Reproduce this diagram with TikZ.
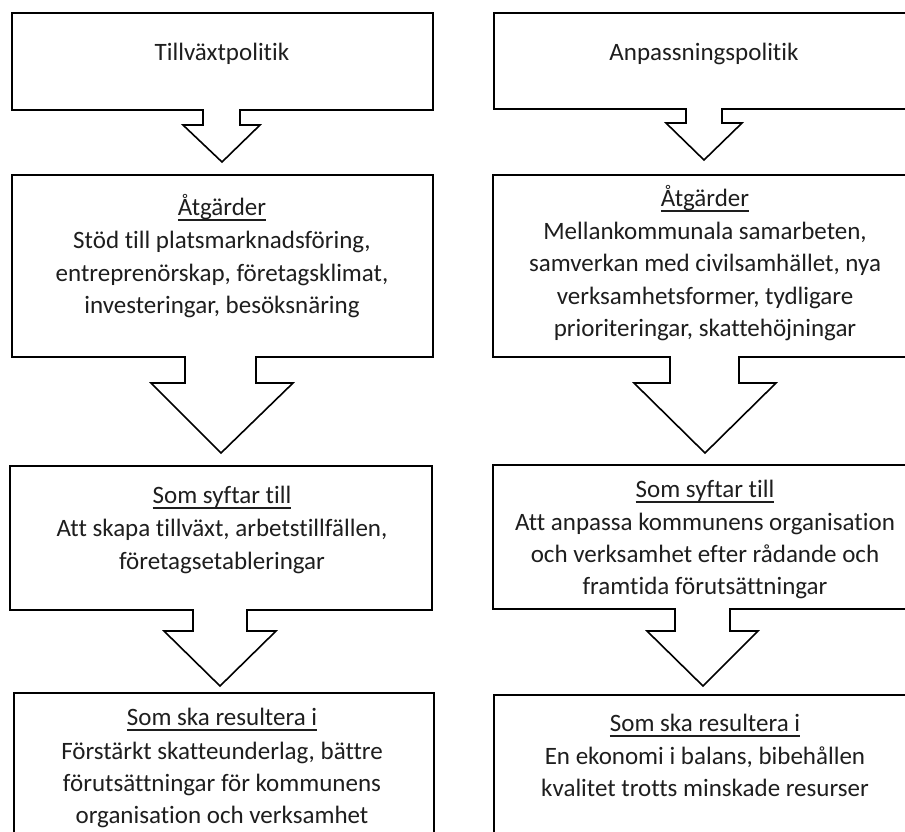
\documentclass[tikz,border=0pt]{standalone}
\usepackage{fontspec}
\setmainfont[Ligatures={NoCommon,NoRare}]{Carlito}
\usetikzlibrary{calc}
\definecolor{txt}{RGB}{30,30,30}
\tikzset{
  boxnode/.style={draw=black, line width=1.6pt, fill=white, inner sep=0pt, anchor=north west},
  lbl/.style={anchor=base, inner sep=0pt, text=txt, font=\fontsize{25}{32}\selectfont},
  arrline/.style={draw=black, line width=1.6pt, line join=miter},
}
% block arrow: #1 top y, #2 stem left, #3 stem right, #4 head y, #5 head left, #6 head right, #7 tip x, #8 tip y
\newcommand{\blockarr}[8]{%
  \fill[white] (#2,#1-2) -- (#2,#4) -- (#5,#4) -- (#7,#8) -- (#6,#4) -- (#3,#4) -- (#3,#1-2) -- cycle;
  \draw[arrline] (#2,#1) -- (#2,#4) -- (#5,#4) -- (#7,#8) -- (#6,#4) -- (#3,#4) -- (#3,#1);
}
\newcommand{\ul}[1]{\setbox0\hbox{#1}\rlap{\rule[-5.5pt]{\wd0}{1.6pt}}\box0}
\begin{document}
\begin{tikzpicture}[x=1pt,y=-1pt]
\useasboundingbox (0,0) rectangle (905,831);
\clip (0,0) rectangle (905,831);
\fill[white] (0,0) rectangle (905,831);
% left boxes
\node[boxnode, minimum width=421pt, minimum height=97pt] (L1) at (11,12) {};
\node[boxnode, minimum width=421pt, minimum height=182pt] (L2) at (11,174) {};
\node[boxnode, minimum width=422pt, minimum height=144pt] (L3) at (9,465) {};
\node[boxnode, minimum width=420pt, minimum height=180pt] (L4) at (13,692) {};
% right boxes
\node[boxnode, minimum width=440pt, minimum height=96pt] (R1) at (493,12) {};
\node[boxnode, minimum width=440pt, minimum height=182pt] (R2) at (492,174) {};
\node[boxnode, minimum width=440pt, minimum height=144pt] (R3) at (492,464) {};
\node[boxnode, minimum width=440pt, minimum height=180pt] (R4) at (493,694) {};
% arrows
\blockarr{109}{203}{240}{125}{183}{260}{222}{162}
\blockarr{356}{185}{256}{383}{151}{293}{221}{453}
\blockarr{609}{193}{247}{631}{164}{276}{220}{686}
\blockarr{108}{686}{722}{123}{666}{742}{704}{160}
\blockarr{356}{670}{739}{383}{634}{776}{705}{453}
\blockarr{608}{675}{730}{631}{647}{758}{703}{686}
% left texts
\node[lbl] (l1a) at (222,60) {Tillväxtpolitik};
\node[lbl] (l2a) at (222,215) {\ul{Åtgärder}};
\node[lbl] (l2b) at (222,248) {Stöd till platsmarknadsföring,};
\node[lbl] (l2c) at (222,281) {entreprenörskap, företagsklimat,};
\node[lbl] (l2d) at (222,313) {investeringar, besöksnäring};
\node[lbl] (l3a) at (222,503) {\ul{Som syftar till}};
\node[lbl] (l3b) at (222,536) {Att skapa tillväxt, arbetstillfällen,};
\node[lbl] (l3c) at (222,569) {företagsetableringar};
\node[lbl] (l4a) at (222,725) {\ul{Som ska resultera i}};
\node[lbl] (l4b) at (222,759) {Förstärkt skatteunderlag, bättre};
\node[lbl] (l4c) at (222,791) {förutsättningar för kommunens};
\node[lbl] (l4d) at (222,823) {organisation och verksamhet};
% right texts
\node[lbl] (r1a) at (704,60) {Anpassningspolitik};
\node[lbl] (r2a) at (705,206) {\ul{Åtgärder}};
\node[lbl] (r2b) at (705,239) {Mellankommunala samarbeten,};
\node[lbl] (r2c) at (705,271) {samverkan med civilsamhället, nya};
\node[lbl] (r2d) at (705,304) {verksamhetsformer, tydligare};
\node[lbl] (r2e) at (705,336) {prioriteringar, skattehöjningar};
\node[lbl] (r3a) at (705,497) {\ul{Som syftar till}};
\node[lbl] (r3b) at (705,530) {Att anpassa kommunens organisation};
\node[lbl] (r3c) at (705,562) {och verksamhet efter rådande och};
\node[lbl] (r3d) at (705,594) {framtida förutsättningar};
\node[lbl] (r4a) at (705,731) {\ul{Som ska resultera i}};
\node[lbl] (r4b) at (705,764) {En ekonomi i balans, bibehållen};
\node[lbl] (r4c) at (705,796) {kvalitet trotts minskade resurser};
\end{tikzpicture}
\end{document}
